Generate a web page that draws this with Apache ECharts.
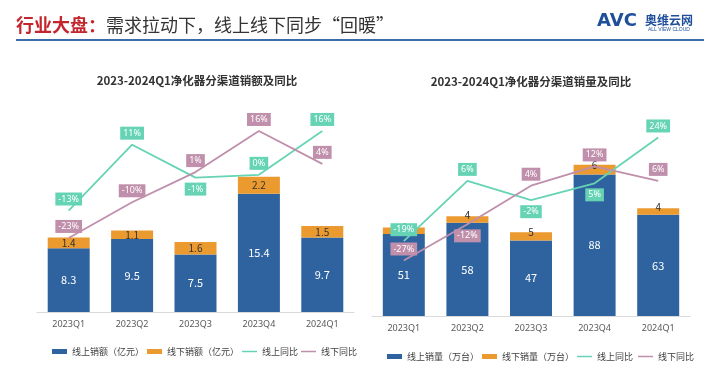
<!DOCTYPE html>
<html><head><meta charset="utf-8">
<script src="https://cdn.jsdelivr.net/npm/echarts@6/dist/echarts.min.js"></script>
<style>html,body{margin:0;padding:0;background:#fff}#c{width:720px;height:374px}</style>
</head><body><div id="c"></div>
<script>
var categories = ['2023Q1','2023Q2','2023Q3','2023Q4','2024Q1'];
// Left chart: sales value (亿元)
var onlineValue = [8.3, 9.5, 7.5, 15.4, 9.7];
var offlineValue = [1.4, 1.1, 1.6, 2.2, 1.5];
var onlineValueYoY = [-13, 11, -1, 0, 16];
var offlineValueYoY = [-23, -10, 1, 16, 4];
// Right chart: sales volume (万台)
var onlineVolume = [51, 58, 47, 88, 63];
var offlineVolume = [4, 4, 5, 6, 4];
var onlineVolumeYoY = [-19, 6, -2, 5, 24];
var offlineVolumeYoY = [-27, -12, 4, 12, 6];

var BLUE = '#2f63a0', ORANGE = '#eb9a2f', GREEN = '#66d4b4', PINK = '#bf8fab';
var labelBelow = { lg: [2], lp: [], rg: [2, 3], rp: [1] };
function lineData(vals, below) {
  return vals.map(function (v, i) {
    return { value: v, label: { position: below.indexOf(i) >= 0 ? 'bottom' : 'top' } };
  });
}
function lineSeries(name, vals, below, color, xi, yi) {
  return {
    name: name, type: 'line', xAxisIndex: xi, yAxisIndex: yi,
    symbol: 'circle', symbolSize: 0.01, showSymbol: true,
    lineStyle: { color: color, width: 1.8 }, itemStyle: { color: color },
    data: lineData(vals, below),
    label: { show: true, formatter: '{c}%', color: '#fff', fontSize: 9, backgroundColor: color,
      padding: [2, 3], distance: 5, fontFamily: 'Noto Sans' },
    z: 5
  };
}
var lineIcon = 'path://M0,0 L30,0 L30,3 L0,3 Z';
var chart = echarts.init(document.getElementById('c'));
var axisLabel = { color: '#595959', fontSize: 9, fontFamily: 'Noto Sans' };
var legendText = { color: '#404040', fontSize: 9, fontFamily: 'Noto Sans CJK SC' };
chart.setOption({
  animation: false,
  textStyle: { fontFamily: 'Noto Sans CJK SC' },
  graphic: [
    { type: 'text', x: 16, y: 25, style: {
      text: '{r|行业大盘：}{b|需求拉动下，线上线下同步“回暖”}', verticalAlign: 'middle',
      rich: { r: { fill: '#c4262e', font: 'bold 18px "Noto Sans CJK SC"' },
              b: { fill: '#333', font: '18px "Noto Sans CJK SC"' } } } },
    { type: 'rect', shape: { x: 16, y: 39, width: 688, height: 2 }, style: { fill: '#3d6aa8' } },
    { type: 'text', x: 597, y: 21, style: { text: 'AVC', fill: '#1f4e9a', font: 'bold 18px "DejaVu Sans"', verticalAlign: 'middle' } },
    { type: 'text', x: 645, y: 20, style: { text: '奥维云网', fill: '#1f4e9a', font: 'bold 12px "Noto Sans CJK SC"', verticalAlign: 'middle' } },
    { type: 'text', x: 648, y: 30, style: { text: 'ALL VIEW CLOUD', fill: '#1f4e9a', font: '5px "Liberation Sans"', verticalAlign: 'middle' } },
    { type: 'text', x: 197, y: 81, style: { text: '2023-2024Q1净化器分渠道销额及同比', fill: '#333', font: 'bold 11.5px "Noto Sans CJK SC"', align: 'center', verticalAlign: 'middle' } },
    { type: 'text', x: 531, y: 82, style: { text: '2023-2024Q1净化器分渠道销量及同比', fill: '#333', font: 'bold 11.5px "Noto Sans CJK SC"', align: 'center', verticalAlign: 'middle' } }
  ],
  grid: [
    { left: 37, right: 366, top: 120, bottom: 62 },
    { left: 372, right: 30, top: 123, bottom: 58 }
  ],
  legend: [
    { left: 47, top: 342, width: 330, itemGap: 3, itemWidth: 15, itemHeight: 5, textStyle: legendText,
      data: [{ name: '线上销额（亿元）', icon: 'rect' }, { name: '线下销额（亿元）', icon: 'rect' },
             { name: '线上同比', icon: lineIcon }, { name: '线下同比', icon: lineIcon }] },
    { left: 382, top: 347, width: 335, itemGap: 3, itemWidth: 15, itemHeight: 5, textStyle: legendText,
      data: [{ name: '线上销量（万台）', icon: 'rect' }, { name: '线下销量（万台）', icon: 'rect' },
             { name: '线上同比 ', icon: lineIcon }, { name: '线下同比 ', icon: lineIcon }] }
  ],
  xAxis: [
    { type: 'category', gridIndex: 0, data: categories, axisTick: { show: false },
      axisLine: { lineStyle: { color: '#d9d9d9' } }, axisLabel: axisLabel },
    { type: 'category', gridIndex: 1, data: categories, axisTick: { show: false },
      axisLine: { lineStyle: { color: '#d9d9d9' } }, axisLabel: axisLabel }
  ],
  yAxis: [
    { type: 'value', gridIndex: 0, min: 0, max: 25, show: false, splitLine: { show: false } },
    { type: 'value', gridIndex: 0, min: -50, max: 20, show: false, splitLine: { show: false } },
    { type: 'value', gridIndex: 1, min: 0, max: 120, show: false, splitLine: { show: false } },
    { type: 'value', gridIndex: 1, min: -50, max: 30, show: false, splitLine: { show: false } }
  ],
  series: [
    { name: '线上销额（亿元）', type: 'bar', stack: 'a', xAxisIndex: 0, yAxisIndex: 0, barWidth: 42,
      itemStyle: { color: BLUE }, data: onlineValue,
      label: { show: true, position: 'inside', color: '#fff', fontSize: 11 } },
    { name: '线下销额（亿元）', type: 'bar', stack: 'a', xAxisIndex: 0, yAxisIndex: 0, barWidth: 42,
      itemStyle: { color: ORANGE }, data: offlineValue,
      label: { show: true, position: 'inside', color: '#333', fontSize: 10 } },
    lineSeries('线上同比', onlineValueYoY, labelBelow.lg, GREEN, 0, 1),
    lineSeries('线下同比', offlineValueYoY, labelBelow.lp, PINK, 0, 1),
    { name: '线上销量（万台）', type: 'bar', stack: 'b', xAxisIndex: 1, yAxisIndex: 2, barWidth: 42,
      itemStyle: { color: BLUE }, data: onlineVolume,
      label: { show: true, position: 'inside', color: '#fff', fontSize: 11 } },
    { name: '线下销量（万台）', type: 'bar', stack: 'b', xAxisIndex: 1, yAxisIndex: 2, barWidth: 42,
      itemStyle: { color: ORANGE }, data: offlineVolume,
      label: { show: true, position: 'inside', offset: [0, -4], color: '#333', fontSize: 10 } },
    lineSeries('线上同比 ', onlineVolumeYoY, labelBelow.rg, GREEN, 1, 3),
    lineSeries('线下同比 ', offlineVolumeYoY, labelBelow.rp, PINK, 1, 3)
  ]
});
</script></body></html>
